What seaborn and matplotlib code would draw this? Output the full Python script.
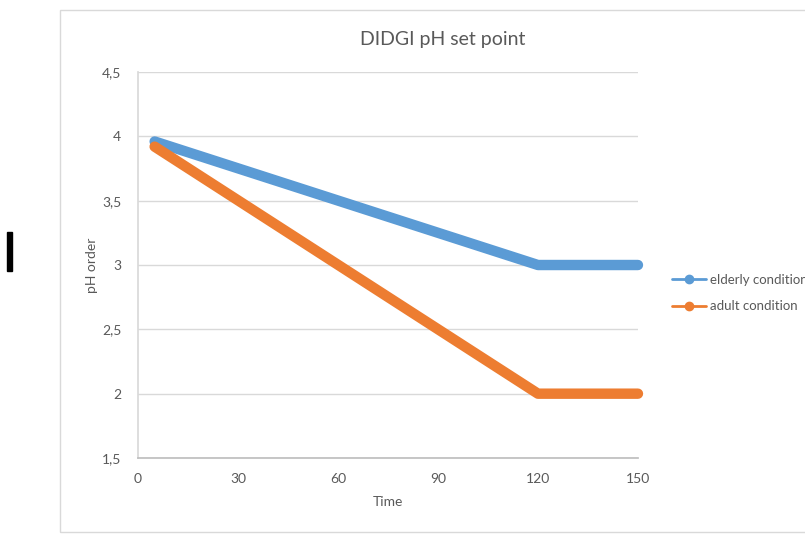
import pandas as pd
import numpy as np
import matplotlib
matplotlib.use("Agg")
import matplotlib.pyplot as plt
import seaborn as sns
from matplotlib.ticker import FuncFormatter, MultipleLocator
from matplotlib.lines import Line2D
from matplotlib.patches import Rectangle

# data (key points of each series)
time = [5, 120, 150]
elderly = [3.96, 3.0, 3.0]
adult = [3.92, 2.0, 2.0]
series_names = ["elderly condition", "adult condition"]
colors = ["#5B9BD5", "#ED7D31"]

df = pd.DataFrame({
    "Time": time * 2,
    "pH order": elderly + adult,
    "series": [series_names[0]] * len(time) + [series_names[1]] * len(time),
})

sns.set_theme(style="white")
plt.rcParams["font.family"] = ["Lato", "DejaVu Sans"]
grey = "#595959"

fig = plt.figure(figsize=(8.05, 5.48), dpi=100)
ax = fig.add_axes([0.1714, 0.1642, 0.6211, 0.7044])

sns.lineplot(data=df, x="Time", y="pH order", hue="series",
             palette=colors, linewidth=7.5, ax=ax, legend=False,
             solid_capstyle="round", solid_joinstyle="round")
for ln in ax.lines:
    ln.set_clip_on(False)

ax.set_xlim(0, 150)
ax.set_ylim(1.5, 4.5)
ax.xaxis.set_major_locator(MultipleLocator(30))
ax.yaxis.set_major_locator(MultipleLocator(0.5))
ax.yaxis.set_major_formatter(FuncFormatter(lambda v, p: f"{v:g}".replace(".", ",")))
ax.grid(axis="y", color="#D9D9D9", linewidth=1)
ax.grid(axis="x", visible=False)
ax.set_axisbelow(True)
for s in ["top", "right"]:
    ax.spines[s].set_visible(False)
ax.spines["left"].set_color("#D9D9D9")
ax.spines["bottom"].set_color("#BFBFBF")
ax.tick_params(axis="y", length=0, labelsize=10, labelcolor=grey, pad=12)
ax.tick_params(axis="x", length=0, labelsize=10, labelcolor=grey, pad=11)
ax.set_xlabel("Time", fontsize=10, color=grey, labelpad=8)
ax.set_ylabel("pH order", fontsize=10, color=grey, labelpad=3)
fig.text(443 / 805, 1 - 40 / 548, "DIDGI pH set point", ha="center", va="center",
         fontsize=14, color=grey)

handles = [Line2D([0], [0], color=c, lw=2, marker="o", markersize=6) for c in colors]
fig.legend(handles, series_names, loc="center left",
           bbox_to_anchor=(660 / 805, 1 - 293 / 548), frameon=False,
           fontsize=9.5, labelcolor=grey, handlelength=2.6, handletextpad=0.3,
           labelspacing=1.1)

# chart frame and the stray dark bar on the left
fig.patches.append(Rectangle((60 / 805, 1 - 532 / 548), 1.0, 522 / 548,
                             transform=fig.transFigure, fill=False,
                             edgecolor="#D9D9D9", linewidth=1))
fig.patches.append(Rectangle((7 / 805, 1 - 271 / 548), 5 / 805, 39 / 548,
                             transform=fig.transFigure, color="black"))

fig.savefig("out.png", dpi=100)
